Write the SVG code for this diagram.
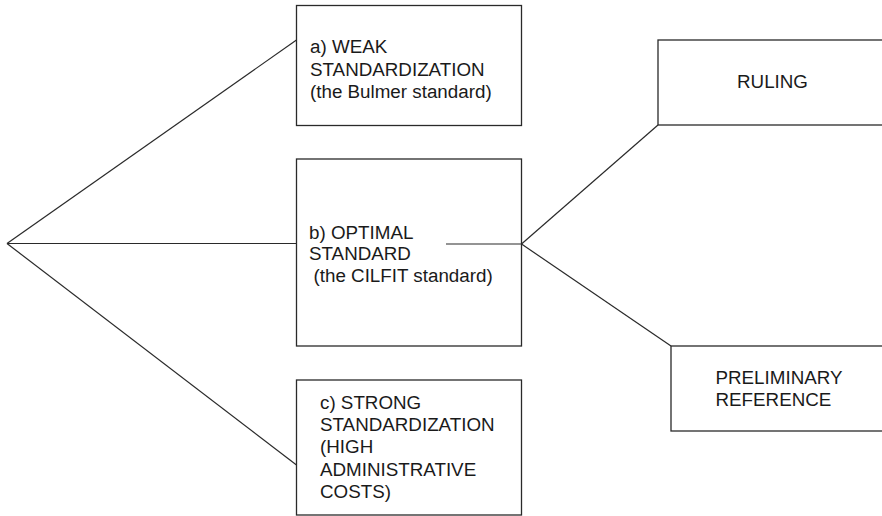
<svg xmlns="http://www.w3.org/2000/svg" width="882" height="516" viewBox="0 0 882 516">
<style>
.box{fill:#fff;stroke:#2a2a2a;stroke-width:1.3}
.con{fill:none;stroke:#2a2a2a;stroke-width:1.2}
text{font-family:"Liberation Sans",Arial,sans-serif;font-size:18.8px;fill:#1a1a1a}
</style>
<rect width="882" height="516" fill="#fff"/>
<g id="node-weak">
<rect class="box" x="296.5" y="5.5" width="225" height="120"/>
<text x="310" y="53">a) WEAK</text>
<text x="310" y="75.5">STANDARDIZATION</text>
<text x="310" y="98">(the Bulmer standard)</text>
</g>
<g id="node-optimal">
<rect class="box" x="296.5" y="159" width="225" height="187"/>
<text x="309" y="238.5">b) OPTIMAL</text>
<text x="309" y="260">STANDARD</text>
<text x="313.5" y="281.5">(the CILFIT standard)</text>
</g>
<g id="node-strong">
<rect class="box" x="296.5" y="380" width="225" height="135"/>
<text x="320" y="409">c) STRONG</text>
<text x="320" y="431">STANDARDIZATION</text>
<text x="320" y="453">(HIGH</text>
<text x="320" y="475.5">ADMINISTRATIVE</text>
<text x="320" y="497.5">COSTS)</text>
</g>
<g id="node-ruling">
<rect class="box" x="658" y="40" width="240" height="85"/>
<text x="737" y="88">RULING</text>
</g>
<g id="node-preliminary">
<rect class="box" x="671" y="346" width="230" height="85"/>
<text x="715.5" y="384">PRELIMINARY</text>
<text x="715.5" y="406">REFERENCE</text>
</g>
<g id="connectors">
<line class="con" x1="7" y1="243.5" x2="296.5" y2="40"/>
<line class="con" x1="7" y1="243.5" x2="296.5" y2="243.5"/>
<line class="con" x1="7" y1="243.5" x2="296.5" y2="465"/>
<line class="con" x1="446" y1="244" x2="521.5" y2="244"/>
<line class="con" x1="521.5" y1="244" x2="658" y2="125"/>
<line class="con" x1="521.5" y1="244" x2="671" y2="346"/>
</g>
</svg>
